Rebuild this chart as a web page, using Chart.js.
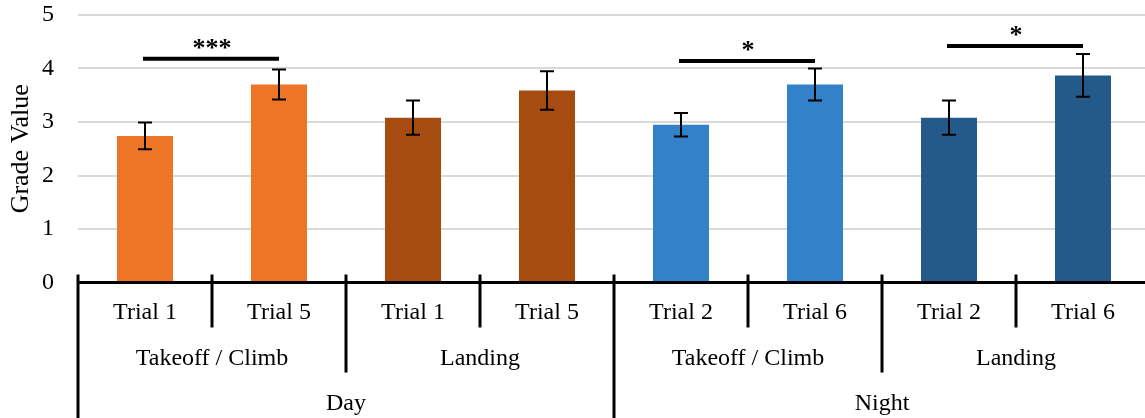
<!DOCTYPE html>
<html>
<head>
<meta charset="utf-8">
<script src="https://cdn.jsdelivr.net/npm/chart.js@4/dist/chart.umd.min.js"></script>
<style>
  html, body { margin: 0; padding: 0; background: #fff; overflow: hidden; }
  #wrap { width: 1150px; height: 418px; position: relative; }
</style>
</head>
<body>
<div id="wrap"><canvas id="chart"></canvas></div>
<script>
const trials = ['Trial 1', 'Trial 5', 'Trial 1', 'Trial 5', 'Trial 2', 'Trial 6', 'Trial 2', 'Trial 6'];
const phases = ['Takeoff / Climb', 'Landing', 'Takeoff / Climb', 'Landing'];
const periods = ['Day', 'Night'];
const grades = [2.74, 3.70, 3.08, 3.59, 2.95, 3.70, 3.08, 3.87];
const errors = [0.25, 0.28, 0.32, 0.36, 0.22, 0.30, 0.32, 0.40];
const barColors = ['#ED7626', '#ED7626', '#A64C10', '#A64C10', '#3381C9', '#3381C9', '#245A89', '#245A89'];
const sigPairs = [[0, 1], [4, 5], [6, 7]];
const sigHeights = [4.18, 4.14, 4.42];
const sigLabels = ['***', '*', '*'];

const FONT = 'Liberation Serif';

// error bars + significance brackets
const errorBars = {
  id: 'errorBars',
  afterDatasetsDraw(chart) {
    const { ctx, scales: { y } } = chart;
    const bars = chart.getDatasetMeta(0).data;
    ctx.save();
    ctx.strokeStyle = '#000';
    ctx.lineWidth = 2;
    bars.forEach((bar, i) => {
      const top = y.getPixelForValue(grades[i] + errors[i]);
      const bot = y.getPixelForValue(grades[i] - errors[i]);
      ctx.beginPath();
      ctx.moveTo(bar.x, top); ctx.lineTo(bar.x, bot);
      ctx.moveTo(bar.x - 7, top); ctx.lineTo(bar.x + 7, top);
      ctx.moveTo(bar.x - 7, bot); ctx.lineTo(bar.x + 7, bot);
      ctx.stroke();
    });

    ctx.lineWidth = 4;
    ctx.fillStyle = '#000';
    ctx.font = 'bold 26px "' + FONT + '"';
    ctx.textAlign = 'center';
    ctx.textBaseline = 'middle';
    sigPairs.forEach(([a, b], i) => {
      const yy = y.getPixelForValue(sigHeights[i]);
      ctx.beginPath();
      ctx.moveTo(bars[a].x - 2, yy); ctx.lineTo(bars[b].x, yy);
      ctx.stroke();
      ctx.fillText(sigLabels[i], (bars[a].x + bars[b].x) / 2, yy - 10);
    });
    ctx.restore();
  }
};

// multi-level category axis
const groupAxis = {
  id: 'groupAxis',
  afterDatasetsDraw(chart) {
    const { ctx, chartArea: { left, right, bottom } } = chart;
    const h = chart.height;
    const n = trials.length;
    const w = (right - left) / n;
    ctx.save();
    ctx.strokeStyle = '#000';
    ctx.lineWidth = 3;
    ctx.beginPath();
    ctx.moveTo(left, bottom); ctx.lineTo(right, bottom);
    ctx.stroke();

    for (let k = 0; k <= n; k++) {
      const x = left + k * w;
      let end = bottom + 45;
      if (k % 4 === 0) end = h;
      else if (k % 2 === 0) end = bottom + 90;
      ctx.beginPath();
      ctx.moveTo(x, bottom - 8); ctx.lineTo(x, end);
      ctx.stroke();
    }

    ctx.fillStyle = '#000';
    ctx.font = '24px "' + FONT + '"';
    ctx.textAlign = 'center';
    ctx.textBaseline = 'middle';
    trials.forEach((t, i) => ctx.fillText(t, left + (i + 0.5) * w, bottom + 30));
    phases.forEach((t, i) => ctx.fillText(t, left + (i * 2 + 1) * w, bottom + 76));
    periods.forEach((t, i) => ctx.fillText(t, left + (i * 4 + 2) * w, bottom + 121));
    ctx.restore();
  }
};

new Chart(document.getElementById('chart'), {
  type: 'bar',
  data: {
    labels: trials,
    datasets: [{
      data: grades,
      backgroundColor: barColors,
      borderWidth: 0,
      categoryPercentage: 1,
      barPercentage: 0.418
    }]
  },
  options: {
    responsive: true,
    maintainAspectRatio: false,
    animation: false,
    layout: { padding: { top: 15, bottom: 135.5, left: 0, right: 0 } },
    plugins: { legend: { display: false }, tooltip: { enabled: false } },
    scales: {
      x: { display: false },
      y: {
        min: 0,
        max: 5,
        ticks: { stepSize: 1, color: '#000', padding: 24, font: { family: FONT, size: 24 } },
        grid: { color: '#d9d9d9', lineWidth: 2, drawTicks: false },
        border: { display: false },
        title: {
          display: true,
          text: 'Grade Value',
          color: '#000',
          font: { family: FONT, size: 26 },
          padding: { top: 6, bottom: 0 }
        },
        afterFit(scale) {
          scale.width = 78;
          scale.paddingTop = 0;
          scale.paddingBottom = 0;
        }
      }
    }
  },
  plugins: [errorBars, groupAxis]
});
</script>
</body>
</html>
